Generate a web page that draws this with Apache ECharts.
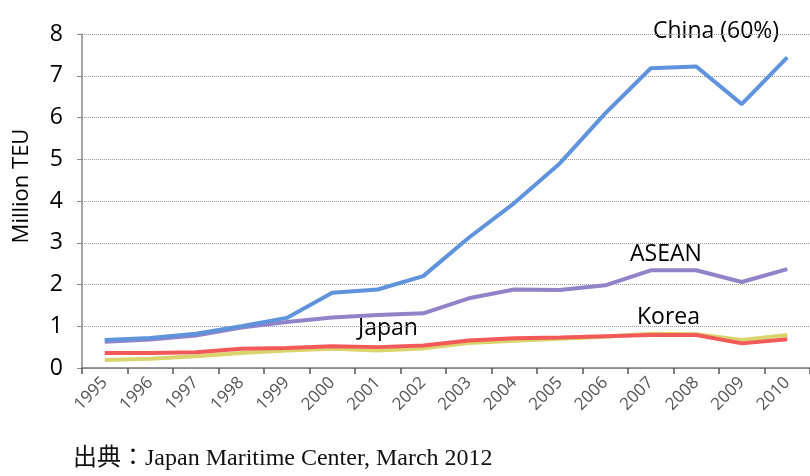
<!DOCTYPE html>
<html>
<head>
<meta charset="utf-8">
<script src="https://cdn.jsdelivr.net/npm/echarts@6/dist/echarts.min.js"></script>
<style>
  html, body { margin: 0; padding: 0; background: #fff; }
  #chart { width: 810px; height: 476px; }
</style>
</head>
<body>
<div id="chart"></div>
<script>
// years on the x axis
const years = ['1995', '1996', '1997', '1998', '1999', '2000', '2001', '2002',
  '2003', '2004', '2005', '2006', '2007', '2008', '2009', '2010'];

// million TEU
const china = [0.67, 0.72, 0.82, 1.0, 1.2, 1.8, 1.88, 2.2, 3.12, 3.95, 4.9, 6.1, 7.18, 7.22, 6.32, 7.44];
const asean = [0.63, 0.68, 0.78, 0.97, 1.1, 1.21, 1.27, 1.31, 1.67, 1.88, 1.87, 1.98, 2.34, 2.34, 2.06, 2.37];
const japan = [0.36, 0.36, 0.38, 0.46, 0.48, 0.52, 0.5, 0.54, 0.66, 0.71, 0.73, 0.76, 0.79, 0.79, 0.59, 0.69];
const korea = [0.19, 0.22, 0.28, 0.36, 0.42, 0.46, 0.42, 0.47, 0.6, 0.65, 0.7, 0.75, 0.82, 0.81, 0.67, 0.79];

const yTicks = [0, 1, 2, 3, 4, 5, 6, 7, 8];

const chart = echarts.init(document.getElementById('chart'));

function lineSeries(name, data, color) {
  return {
    name: name,
    type: 'line',
    data: data,
    symbol: 'none',
    smooth: false,
    lineStyle: { color: color, width: 4 },
    itemStyle: { color: color }
  };
}

const labelFont = '23px "Open Sans"';

chart.setOption({
  animation: false,
  backgroundColor: '#fff',
  grid: { left: 82, top: 34, width: 732, height: 334 },
  xAxis: {
    type: 'category',
    data: years,
    boundaryGap: true,
    axisLine: { lineStyle: { color: '#777', width: 1.5 } },
    axisTick: { show: true, length: 6, lineStyle: { color: '#555', width: 1.5 } },
    axisLabel: {
      rotate: 45,
      color: '#555',
      fontFamily: 'Open Sans',
      fontSize: 17,
      margin: 12
    }
  },
  yAxis: {
    type: 'value',
    min: yTicks[0],
    max: yTicks[yTicks.length - 1],
    interval: 1,
    axisLine: { show: true, lineStyle: { color: '#888', width: 1.5 } },
    axisTick: { show: true, length: 5, lineStyle: { color: '#888' } },
    axisLabel: { color: '#000', fontFamily: 'Open Sans', fontSize: 23, margin: 19 },
    splitLine: { lineStyle: { color: '#999', type: 'dotted', width: 1 } }
  },
  series: [
    lineSeries('Korea', korea, '#d9d56c'),
    lineSeries('Japan', japan, '#f25a5a'),
    lineSeries('ASEAN', asean, '#9282c8'),
    lineSeries('China', china, '#5f93db')
  ],
  graphic: [
    { type: 'text', x: 22, y: 186, rotation: Math.PI / 2,
      style: { text: 'Million TEU', fill: '#000', font: '22px "Open Sans"', align: 'center', verticalAlign: 'middle' } },
    { type: 'text', x: 653, y: 31, style: { text: 'China (60%)', fill: '#000', font: labelFont, verticalAlign: 'middle' } },
    { type: 'text', x: 630, y: 254, style: { text: 'ASEAN', fill: '#000', font: labelFont, verticalAlign: 'middle' } },
    { type: 'text', x: 637, y: 317, style: { text: 'Korea', fill: '#000', font: labelFont, verticalAlign: 'middle' } },
    { type: 'text', x: 358, y: 328, style: { text: 'Japan', fill: '#000', font: labelFont, verticalAlign: 'middle' } },
    { type: 'text', x: 73, y: 459,
      style: { text: '出典：Japan Maritime Center, March 2012', fill: '#111', font: '24px "Liberation Serif", "Noto Sans CJK JP"', verticalAlign: 'middle' } }
  ]
});
</script>
</body>
</html>
